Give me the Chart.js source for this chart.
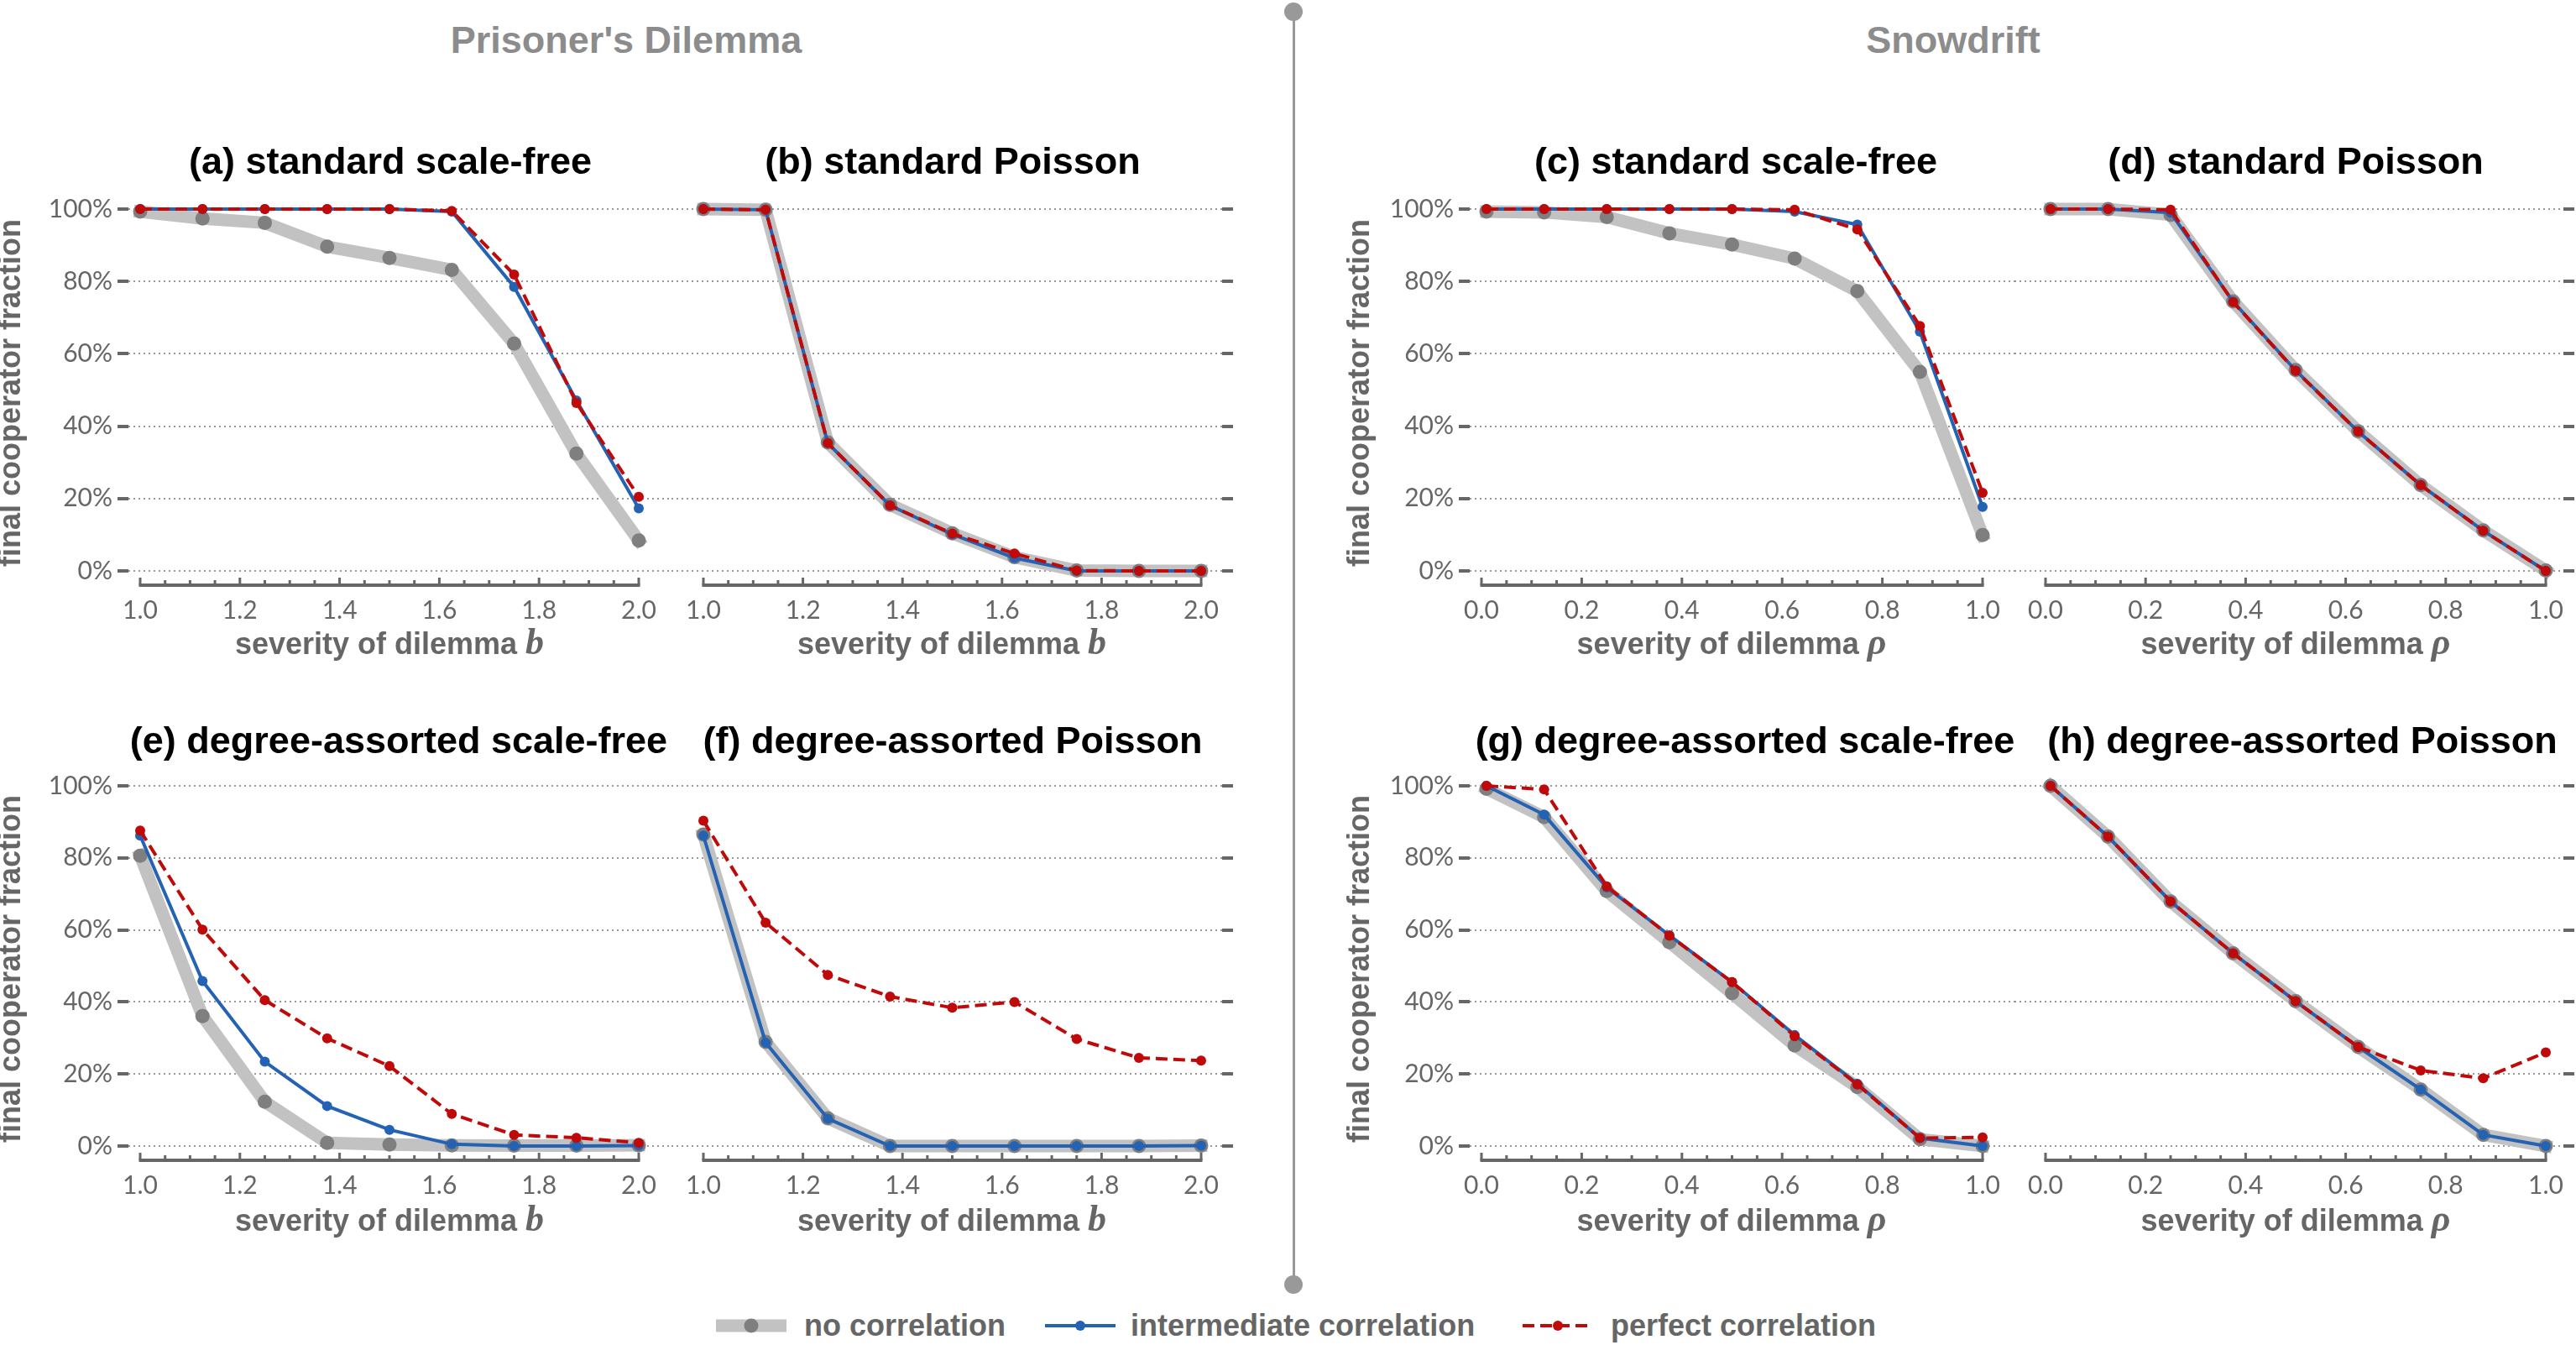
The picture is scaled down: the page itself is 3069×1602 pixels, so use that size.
<!DOCTYPE html>
<html>
<head>
<meta charset="utf-8">
<script src="https://cdn.jsdelivr.net/npm/chart.js@4.4.1/dist/chart.umd.min.js"></script>
<style>
  html, body { margin: 0; padding: 0; background: #fff; }
  body { width: 3069px; height: 1602px; position: relative; overflow: hidden; font-family: 'Liberation Sans', Arial, sans-serif; }
  canvas { position: absolute; }
  .lbl { position: absolute; transform: translate(-50%, -50%); white-space: nowrap; line-height: 1; font-weight: bold; }
  .sect { font-size: 45px; color: #8c8c8c; }
  .ptitle { font-size: 45px; color: #000; }
  .xtitle { font-size: 36px; color: #666; }
  .xtitle i { font-family: 'Liberation Serif', 'DejaVu Serif', serif; font-size: 44px; }
  .legtext { position: absolute; transform: translateY(-50%); white-space: nowrap; line-height: 1; font-weight: bold; font-size: 36px; color: #666; }
  .divline { position: absolute; left: 1540px; top: 14px; width: 3px; height: 1516px; background: #999; }
  .divdot { position: absolute; width: 22px; height: 22px; border-radius: 50%; background: #999; }
</style>
</head>
<body>
<div class="lbl sect" style="left:746px;top:47px">Prisoner's Dilemma</div>
<div class="lbl sect" style="left:2327px;top:47px">Snowdrift</div>
<div class="divline"></div>
<div class="divdot" style="left:1530px;top:3px"></div>
<div class="divdot" style="left:1530px;top:1519px"></div>
<script>
// x values (severity of dilemma)
const bValues = [1.0, 1.125, 1.25, 1.375, 1.5, 1.625, 1.75, 1.875, 2.0]
const rhoValues = [0.01, 0.125, 0.25, 0.375, 0.5, 0.625, 0.75, 0.875, 1.0]

// tick labels
const yTicks = [0, 20, 40, 60, 80, 100]
const bTicks = [1.0, 1.2, 1.4, 1.6, 1.8, 2.0]
const rhoTicks = [0.0, 0.2, 0.4, 0.6, 0.8, 1.0]

const seriesNames = ['no correlation', 'intermediate correlation', 'perfect correlation']

// final cooperator fraction (%) -- Prisoner's Dilemma
const aNone = [99.3, 97.4, 96.2, 89.6, 86.5, 83.2, 62.8, 32.4, 8.4]
const aInter = [100, 100, 100, 100, 100, 99.3, 78.5, 47.1, 17.3]
const aPerfect = [100, 100, 100, 100, 100, 99.5, 81.9, 46.4, 20.5]

const bNone = [100, 99.8, 35.5, 18.3, 10.4, 3.8, 0.1, 0, 0]
const bInter = [100, 99.8, 35.3, 18.1, 10.1, 3.6, 0, 0, 0]
const bPerfect = [100, 99.8, 35.3, 18.1, 10.3, 4.8, 0.1, 0, 0]

const eNone = [80.6, 36.1, 12.3, 0.9, 0.4, 0.2, 0.1, 0.1, 0.2]
const eInter = [86.2, 45.8, 23.4, 11.1, 4.5, 0.5, 0, 0, 0.1]
const ePerfect = [87.6, 60.1, 40.5, 29.9, 22.2, 8.9, 3.1, 2.3, 0.9]

const fNone = [86.5, 28.9, 7.7, 0, 0, 0, 0, 0, 0.1]
const fInter = [86.2, 28.7, 7.6, 0, 0, 0, 0, 0, 0.1]
const fPerfect = [90.3, 62.0, 47.5, 41.5, 38.4, 40.0, 29.7, 24.5, 23.7]

// final cooperator fraction (%) -- Snowdrift
const cNone = [99.3, 99.1, 97.8, 93.3, 90.2, 86.3, 77.3, 55.0, 9.9]
const cInter = [100, 100, 100, 100, 100, 99.3, 95.7, 66.1, 17.7]
const cPerfect = [100, 100, 100, 100, 100, 99.8, 94.4, 67.7, 21.6]

const dNone = [100, 100, 98.4, 74.5, 55.5, 38.6, 23.7, 11.2, 0.1]
const dInter = [100, 100, 99.0, 74.4, 55.4, 38.5, 23.7, 11.1, 0]
const dPerfect = [100, 100, 99.8, 74.3, 55.3, 38.5, 23.7, 11.1, 0]

const gNone = [99.2, 91.3, 70.8, 56.6, 42.4, 27.9, 16.4, 1.9, 0]
const gInter = [100, 92.0, 71.8, 58.5, 45.5, 30.8, 17.3, 2.2, 0]
const gPerfect = [100, 99.0, 72.1, 58.4, 45.5, 30.5, 17.1, 2.2, 2.4]

const hNone = [100, 85.9, 67.9, 53.5, 40.2, 27.5, 15.7, 3.1, 0]
const hInter = [100, 85.9, 67.9, 53.5, 40.2, 27.5, 15.7, 3.1, 0]
const hPerfect = [100, 85.9, 67.9, 53.5, 40.2, 27.5, 21.0, 18.8, 26.0]

// looks of the three series (gray band, blue line, red dashed)
const seriesStyles = [
  { color: '#c2c2c2', point: '#7f7f7f', width: 15, radius: 8.5, dash: [], order: 3, cap: 'square' },
  { color: '#2462b4', point: '#2462b4', width: 4, radius: 6, dash: [], order: 2, cap: 'butt' },
  { color: '#c00a0a', point: '#c00a0a', width: 4, radius: 6, dash: [14, 7], order: 1, cap: 'butt' }
]

// page layout in px
const columns = [
  { canvasLeft: -4, canvasRight: 800, chartLeft: 153, chartRight: 800, axisFrom: 167, axisTo: 761, side: 'left', center: 464 },
  { canvasLeft: 800, canvasRight: 1470, chartLeft: 800, chartRight: 1456, axisFrom: 838, axisTo: 1431, side: 'right', center: 1134 },
  { canvasLeft: 1603, canvasRight: 2400, chartLeft: 1751, chartRight: 2400, axisFrom: 1765, axisTo: 2362, side: 'left', center: 2063 },
  { canvasLeft: 2400, canvasRight: 3069, chartLeft: 2400, chartRight: 3054, axisFrom: 2437, axisTo: 3033, side: 'right', center: 2735 }
]
const rows = [
  { chartTop: 239, chartBottom: 697, zeroPx: 680, fullPx: 249, titleY: 191, xTitleY: 765 },
  { chartTop: 926, chartBottom: 1382, zeroPx: 1365, fullPx: 936, titleY: 881, xTitleY: 1452 }
]

const panels = [
  { title: '(a) standard scale-free', row: 0, col: 0, titleX: 465, xs: bValues, ticks: bTicks, lo: 1, hi: 2, v: 'b', data: [aNone, aInter, aPerfect] },
  { title: '(b) standard Poisson', row: 0, col: 1, titleX: 1135, xs: bValues, ticks: bTicks, lo: 1, hi: 2, v: 'b', data: [bNone, bInter, bPerfect] },
  { title: '(c) standard scale-free', row: 0, col: 2, titleX: 2068, xs: rhoValues, ticks: rhoTicks, lo: 0, hi: 1, v: 'ρ', data: [cNone, cInter, cPerfect] },
  { title: '(d) standard Poisson', row: 0, col: 3, titleX: 2735, xs: rhoValues, ticks: rhoTicks, lo: 0, hi: 1, v: 'ρ', data: [dNone, dInter, dPerfect] },
  { title: '(e) degree-assorted scale-free', row: 1, col: 0, titleX: 475, xs: bValues, ticks: bTicks, lo: 1, hi: 2, v: 'b', data: [eNone, eInter, ePerfect] },
  { title: '(f) degree-assorted Poisson', row: 1, col: 1, titleX: 1135, xs: bValues, ticks: bTicks, lo: 1, hi: 2, v: 'b', data: [fNone, fInter, fPerfect] },
  { title: '(g) degree-assorted scale-free', row: 1, col: 2, titleX: 2079, xs: rhoValues, ticks: rhoTicks, lo: 0, hi: 1, v: 'ρ', data: [gNone, gInter, gPerfect] },
  { title: '(h) degree-assorted Poisson', row: 1, col: 3, titleX: 2743, xs: rhoValues, ticks: rhoTicks, lo: 0, hi: 1, v: 'ρ', data: [hNone, hInter, hPerfect] }
]

Chart.defaults.font.family = 'Lato'
Chart.defaults.color = '#666'

// thick bottom axis with small upward ticks, only over the data range
const axisLine = {
  id: 'axisLine',
  afterDraw(chart, args, opts) {
    const x = chart.scales.x
    const ctx = chart.ctx
    const y = chart.chartArea.bottom
    const p0 = x.getPixelForValue(opts.from)
    const p1 = x.getPixelForValue(opts.to)
    ctx.save()
    ctx.strokeStyle = '#666'
    ctx.lineWidth = 4
    ctx.beginPath()
    ctx.moveTo(p0 - 1.5, y)
    ctx.lineTo(p1 + 1.5, y)
    ctx.stroke()
    ctx.lineWidth = 3
    ctx.beginPath()
    for (let i = 0; i <= 20; i++) {
      const px = x.getPixelForValue(opts.from + (i * (opts.to - opts.from)) / 20)
      const len = i % 4 === 0 ? 9 : 6
      ctx.moveTo(px, y)
      ctx.lineTo(px, y - len)
    }
    ctx.stroke()
    ctx.restore()
  }
}

function addLabel(cls, text, x, y) {
  const d = document.createElement('div')
  d.className = 'lbl ' + cls
  d.style.left = x + 'px'
  d.style.top = y + 'px'
  d.innerHTML = text
  document.body.appendChild(d)
}

panels.forEach(p => {
  const col = columns[p.col]
  const row = rows[p.row]

  const top = row.chartTop - 30
  const w = col.canvasRight - col.canvasLeft
  const h = row.chartBottom + 60 - top
  const cv = document.createElement('canvas')
  cv.width = w
  cv.height = h
  cv.style.left = col.canvasLeft + 'px'
  cv.style.top = top + 'px'
  cv.style.width = w + 'px'
  cv.style.height = h + 'px'
  document.body.appendChild(cv)

  // scale limits so that the data range lands on the reference pixels
  const xppu = (col.axisTo - col.axisFrom) / (p.hi - p.lo)
  const xmin = p.lo - (col.axisFrom - col.chartLeft) / xppu
  const xmax = p.hi + (col.chartRight - col.axisTo) / xppu
  const yppu = (row.zeroPx - row.fullPx) / 100
  const ymin = -(row.chartBottom - row.zeroPx) / yppu
  const ymax = 100 + (row.fullPx - row.chartTop) / yppu
  const yWidth = col.side === 'left' ? col.chartLeft - col.canvasLeft : col.canvasRight - col.chartRight

  const datasets = p.data.map((vals, k) => {
    const s = seriesStyles[k]
    return {
      label: seriesNames[k],
      data: p.xs.map((x, i) => ({ x: x, y: vals[i] })),
      borderColor: s.color,
      borderWidth: s.width,
      borderDash: s.dash,
      borderCapStyle: s.cap,
      pointRadius: s.radius,
      pointBackgroundColor: s.point,
      pointBorderWidth: 0,
      order: s.order,
      clip: false,
      tension: 0,
      fill: false
    }
  })

  new Chart(cv, {
    type: 'line',
    data: { datasets: datasets },
    plugins: [axisLine],
    options: {
      responsive: false,
      devicePixelRatio: 1,
      animation: false,
      events: [],
      layout: { autoPadding: false, padding: { top: 30, left: 0, right: 0, bottom: 0 } },
      plugins: {
        legend: { display: false },
        tooltip: { enabled: false },
        axisLine: { from: p.lo, to: p.hi }
      },
      scales: {
        x: {
          type: 'linear',
          min: xmin,
          max: xmax,
          grid: { display: false, drawTicks: false },
          border: { display: false },
          afterBuildTicks: scale => { scale.ticks = p.ticks.map(v => ({ value: v })) },
          afterFit: scale => {
            scale.height = 60
            scale.paddingLeft = 0
            scale.paddingRight = 0
          },
          ticks: {
            font: { size: 30 },
            color: '#666',
            padding: 12,
            maxRotation: 0,
            autoSkip: false,
            callback: v => v.toFixed(1)
          }
        },
        y: {
          position: col.side,
          min: ymin,
          max: ymax,
          afterBuildTicks: scale => { scale.ticks = yTicks.map(v => ({ value: v })) },
          afterFit: scale => {
            scale.width = yWidth
            scale.paddingTop = 0
            scale.paddingBottom = 0
          },
          grid: {
            color: '#999',
            lineWidth: 2,
            drawTicks: true,
            tickLength: 13,
            tickWidth: 4,
            tickColor: '#666',
            tickBorderDash: []
          },
          border: { display: false, dash: [2, 4] },
          ticks: {
            display: col.side === 'left',
            font: { size: 30 },
            color: '#666',
            padding: 6,
            callback: v => v + '%'
          },
          title: {
            display: col.side === 'left',
            text: 'final cooperator fraction',
            color: '#666',
            font: { family: "'Liberation Sans', Arial, sans-serif", size: 36, weight: 'bold', lineHeight: 1 },
            padding: 0
          }
        }
      }
    }
  })

  addLabel('ptitle', p.title, p.titleX, row.titleY)
  addLabel('xtitle', 'severity of dilemma <i>' + p.v + '</i>', col.center, row.xTitleY)
})

// legend under the panels
const legendItems = [
  { swatchLeft: 853, textLeft: 958 },
  { swatchLeft: 1245, textLeft: 1347 },
  { swatchLeft: 1814, textLeft: 1919 }
]
const legendY = 1579
legendItems.forEach((it, k) => {
  const s = seriesStyles[k]
  const ns = 'http://www.w3.org/2000/svg'
  const svg = document.createElementNS(ns, 'svg')
  svg.setAttribute('width', 84)
  svg.setAttribute('height', 30)
  svg.style.position = 'absolute'
  svg.style.left = it.swatchLeft + 'px'
  svg.style.top = legendY - 15 + 'px'
  const ln = document.createElementNS(ns, 'line')
  ln.setAttribute('x1', 0)
  ln.setAttribute('x2', 84)
  ln.setAttribute('y1', 15)
  ln.setAttribute('y2', 15)
  ln.setAttribute('stroke', s.color)
  ln.setAttribute('stroke-width', s.width)
  if (s.dash.length) ln.setAttribute('stroke-dasharray', s.dash.join(' '))
  svg.appendChild(ln)
  const c = document.createElementNS(ns, 'circle')
  c.setAttribute('cx', 42)
  c.setAttribute('cy', 15)
  c.setAttribute('r', s.radius)
  c.setAttribute('fill', s.point)
  svg.appendChild(c)
  document.body.appendChild(svg)

  const t = document.createElement('div')
  t.className = 'legtext'
  t.style.left = it.textLeft + 'px'
  t.style.top = legendY + 'px'
  t.textContent = seriesNames[k]
  document.body.appendChild(t)
})
</script>
</body>
</html>
